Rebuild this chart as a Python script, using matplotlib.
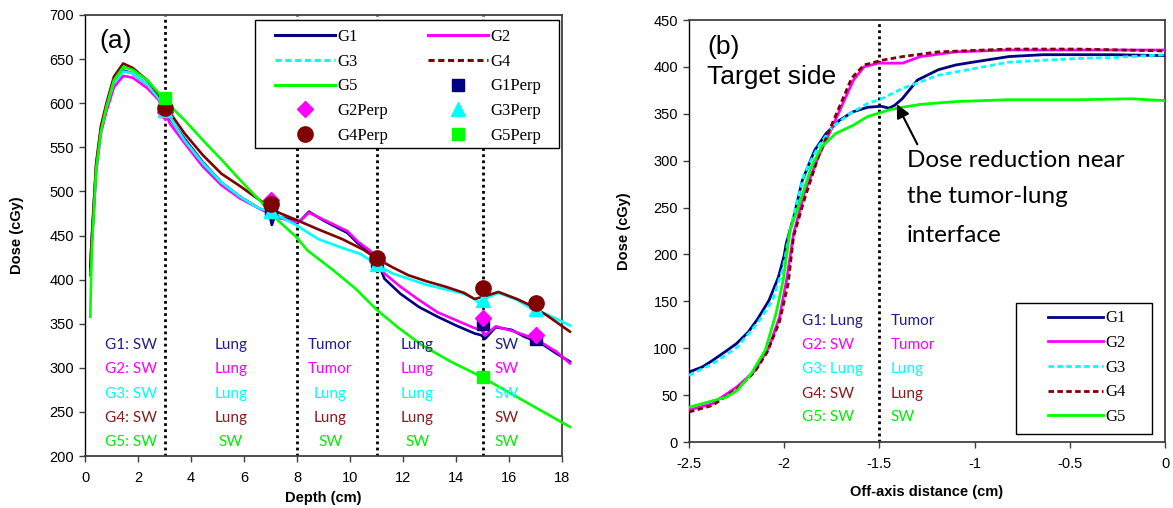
import matplotlib
matplotlib.use('Agg')
import matplotlib.pyplot as plt
from matplotlib.lines import Line2D
from matplotlib.patches import Rectangle
from matplotlib.ticker import FormatStrFormatter

plt.rcParams['font.family'] = 'Liberation Sans'
plt.rcParams['axes.unicode_minus'] = False

# ---------------- panel (a): depth dose ----------------
a_g1_depth = [0.2, 0.25, 0.42, 0.6, 0.81, 1.09, 1.44, 1.8, 2.35, 2.77, 3.0, 3.2, 3.75, 4.45, 5.15, 5.85,
              6.55, 6.95, 7.05, 7.15, 7.5, 7.95, 8.1, 8.45, 9.0, 9.9, 10.3, 10.75, 11.0, 11.3, 11.9, 12.6,
              13.3, 14.0, 14.7, 14.95, 15.1, 15.5, 16.1, 16.6, 17.2, 17.8, 18.3]
a_g1_dose = [410, 441, 528, 570, 596, 624, 637, 634, 621, 606, 596, 583, 560, 533, 510, 494,
             481, 476, 462, 471, 470, 466, 466, 477, 467, 453, 441, 432, 424, 401, 384, 369,
             358, 348, 339, 337, 333, 346, 343, 335, 328, 316, 307]

a_g2_depth = [0.2, 0.25, 0.42, 0.6, 0.81, 1.09, 1.44, 1.8, 2.35, 2.77, 3.0, 3.2, 3.75, 4.45, 5.15, 5.85,
              6.55, 7.3, 7.95, 8.1, 8.45, 9.0, 9.9, 10.3, 10.75, 11.0, 11.3, 11.9, 12.6, 13.3, 14.0,
              14.7, 14.95, 15.1, 15.5, 16.1, 16.6, 17.2, 17.8, 18.3]
a_g2_dose = [405, 436, 522, 566, 591, 618, 631, 629, 617, 604, 592, 577, 555, 528, 507, 492,
             481, 470, 465, 466, 476, 468, 455, 443, 433, 425, 407, 392, 377, 363, 354,
             345, 343, 337, 347, 342, 337, 329, 318, 305]

a_g3_depth = [0.2, 0.25, 0.42, 0.6, 0.81, 1.09, 1.44, 1.8, 2.35, 2.77, 3.0, 3.75, 4.45, 5.15, 5.85, 6.55,
              7.0, 7.95, 8.8, 9.7, 10.4, 11.0, 11.6, 12.2, 12.9, 13.6, 14.3, 14.7, 14.95, 15.2, 15.6,
              16.3, 16.8, 17.4, 18.3]
a_g3_dose = [420, 443, 528, 570, 596, 624, 636, 634, 621, 606, 594, 558, 532, 510, 494, 481,
             477, 462, 446, 436, 429, 417, 407, 401, 394, 389, 384, 378, 371, 380, 385,
             377, 368, 361, 348]

a_g4_depth = [0.2, 0.25, 0.42, 0.6, 0.81, 1.09, 1.44, 1.8, 2.35, 2.77, 3.0, 3.75, 4.45, 5.15, 5.85, 6.55,
              7.3, 7.95, 8.8, 9.7, 10.5, 11.0, 11.6, 12.2, 12.9, 13.6, 14.3, 14.7, 14.95, 15.6, 16.3,
              16.8, 17.4, 18.3]
a_g4_dose = [415, 445, 532, 574, 600, 630, 645, 640, 626, 610, 598, 566, 541, 520, 506, 491,
             476, 468, 457, 446, 434, 424, 414, 405, 398, 392, 385, 378, 380, 386, 378,
             371, 360, 341]

a_g5_depth = [0.2, 0.25, 0.42, 0.6, 0.81, 1.09, 1.44, 1.8, 2.35, 2.77, 3.0, 3.75, 4.45, 5.15, 5.85, 6.55,
              7.25, 7.95, 8.4, 9.35, 10.2, 11.0, 11.8, 12.7, 13.8, 14.95, 16.0, 17.0, 18.3]
a_g5_dose = [358, 430, 525, 568, 596, 626, 641, 638, 626, 612, 603, 581, 558, 536, 513, 491,
             468, 449, 433, 411, 390, 366, 346, 326, 307, 290, 272, 255, 233]

# perpendicular measurements
perp_depth = [3, 7, 11, 15, 17]
g1_perp = [591, 478, 421, 350, 333]
g2_perp = [590, 490, 421, 356, 337]
g3_perp = [592, 478, 418, 377, 367]
g4_perp = [595, 486, 424, 391, 374]
g5_perp_depth = [3, 15]
g5_perp = [606, 290]

boundaries_a = [3, 8, 11, 15]
region_text_a = [['G1: SW', 'Lung', 'Tumor', 'Lung', 'SW'],
                 ['G2: SW', 'Lung', 'Tumor', 'Lung', 'SW'],
                 ['G3: SW', 'Lung', 'Lung', 'Lung', 'SW'],
                 ['G4: SW', 'Lung', 'Lung', 'Lung', 'SW'],
                 ['G5: SW', 'SW', 'SW', 'SW', 'SW']]

# ---------------- panel (b): off-axis profiles ----------------
b_g1_x = [-2.5, -2.43, -2.376, -2.3, -2.25, -2.19, -2.14, -2.08, -2.03, -2.0, -1.99, -1.95, -1.905, -1.84,
          -1.78, -1.71, -1.64, -1.56, -1.49, -1.45, -1.42, -1.38, -1.3, -1.25, -1.19, -1.1, -1.01, -0.82,
          -0.64, -0.45, -0.27, 0]
b_g1_dose = [74.6, 80, 87, 97.7, 105, 117, 131, 151, 176, 199, 211, 240, 279, 311,
             329, 343, 352, 357, 358, 356, 359, 366, 386, 391, 397, 402, 405, 411,
             413, 413, 413, 412]

b_g2_x = [-2.5, -2.376, -2.247, -2.154, -2.08, -2.025, -1.988, -1.951, -1.895, -1.821, -1.747, -1.692,
          -1.636, -1.581, -1.507, -1.378, -1.285, -1.1, -0.823, -0.453, 0]
b_g2_dose = [34, 41, 59, 76, 101, 133, 172, 222, 265, 304, 336, 361,
             386, 400, 404, 404, 411, 416, 418, 418, 418]

b_g3_x = [-2.5, -2.376, -2.247, -2.136, -2.062, -2.006, -1.969, -1.895, -1.821, -1.747, -1.655, -1.562,
          -1.489, -1.378, -1.285, -1.193, -1.008, -0.823, -0.638, -0.453, -0.268, 0]
b_g3_dose = [71, 83.5, 101, 128, 151, 185, 226, 286, 315, 336, 350, 361,
             366, 377, 384, 391, 398, 405, 407, 409, 410, 413]

b_g4_x = [-2.5, -2.376, -2.247, -2.154, -2.089, -2.025, -1.979, -1.951, -1.895, -1.821, -1.747, -1.692,
          -1.646, -1.581, -1.489, -1.378, -1.193, -0.823, -0.453, 0]
b_g4_dose = [32, 39, 57, 75, 96, 128, 169, 219, 258, 304, 340, 366,
             388, 402, 407, 411, 416, 419, 419, 417]

b_g5_x = [-2.5, -2.376, -2.302, -2.247, -2.173, -2.099, -2.043, -2.006, -1.969, -1.914, -1.858, -1.803,
          -1.729, -1.636, -1.562, -1.452, -1.378, -1.285, -1.1, -0.823, -0.453, -0.176, 0]
b_g5_dose = [37, 44, 48, 55, 73, 98, 137, 172, 226, 258, 293, 315,
             329, 338, 347, 354, 357, 360, 363, 365, 365, 366, 364]

region_left_b = ['G1: Lung', 'G2: SW', 'G3: Lung', 'G4: SW', 'G5: SW']
region_right_b = ['Tumor', 'Tumor', 'Lung', 'Lung', 'SW']

names = ['G1', 'G2', 'G3', 'G4', 'G5']
colors = ['#000080', '#ff00ff', '#00ffff', '#800000', '#00ff00']
text_colors = ['#1f1f8c', '#ff00ff', '#00ffff', '#8b1c1c', '#00ee00']
dashes = ['-', '-', (0, (2, 1.2)), (0, (2, 1.2)), '-']

fig = plt.figure(figsize=(11.73, 5.08), dpi=100)
ax1 = fig.add_axes([85 / 1173, 52 / 508, 477 / 1173, 441 / 508])
ax2 = fig.add_axes([689 / 1173, 66 / 508, 476 / 1173, 422 / 508])


def style_axes(ax):
    for s in ['top', 'right', 'bottom']:
        ax.spines[s].set_color('#404040')
        ax.spines[s].set_linewidth(1.3)
    ax.spines['left'].set_color('black')
    ax.spines['left'].set_linewidth(1.0)
    ax.tick_params(direction='out', length=4, width=1, labelsize=10.5, color='#404040')
    ax.tick_params(axis='x', pad=7)
    ax.tick_params(axis='y', pad=4)


# ---- (a)
a_curves = [(a_g1_depth, a_g1_dose), (a_g2_depth, a_g2_dose), (a_g3_depth, a_g3_dose),
            (a_g4_depth, a_g4_dose), (a_g5_depth, a_g5_dose)]
for (d, v), c in zip(a_curves, colors):
    ax1.plot(d, v, color=c, lw=1.9, clip_on=False, zorder=3)

for b in boundaries_a:
    ax1.axvline(b, color='black', lw=2, linestyle=(0, (1, 1.2)), zorder=2)

p1, = ax1.plot(perp_depth, g1_perp, 's', color=colors[0], ms=9, zorder=4)
p2, = ax1.plot(perp_depth, g2_perp, 'D', color=colors[1], ms=8, zorder=4)
p3, = ax1.plot(perp_depth, g3_perp, '^', color=colors[2], ms=10, zorder=4)
p4, = ax1.plot(perp_depth, g4_perp, 'o', color=colors[3], ms=11, zorder=4)
p5, = ax1.plot(g5_perp_depth, g5_perp, 's', color=colors[4], ms=9, zorder=4)

ax1.set_xlim(0, 18)
ax1.set_ylim(200, 700)
ax1.set_xticks(range(0, 19, 2))
ax1.set_yticks(range(200, 701, 50))
style_axes(ax1)
ax1.set_xlabel('Depth (cm)', fontsize=10.5, fontweight='bold')
ax1.set_ylabel('Dose (cGy)', fontsize=10.5, fontweight='bold')
ax1.xaxis.set_label_coords(0.5, -0.079)
ax1.yaxis.set_label_coords(-0.128, 0.5)

ax1.text(0.53, 671, '(a)', fontsize=19, va='center', ha='left')

col_x_a = [1.72, 5.5, 9.25, 12.55, 15.9]
row_y_a = [325.7, 298.5, 270, 242.6, 216]
for row, y, c in zip(region_text_a, row_y_a, text_colors):
    for t, x in zip(row, col_x_a):
        ax1.text(x, y, t, color=c, fontsize=11, family='Lato', ha='center', va='center', zorder=5)

line_h = [Line2D([], [], color=c, lw=2.2, linestyle=ls) for c, ls in zip(colors, dashes)]
hand_a = [line_h[0], line_h[2], line_h[4], p2, p4, line_h[1], line_h[3], p1, p3, p5]
lab_a = ['G1', 'G3', 'G5', 'G2Perp', 'G4Perp', 'G2', 'G4', 'G1Perp', 'G3Perp', 'G5Perp']
ax1.add_patch(Rectangle((0.356, 0.698), 0.638, 0.291, transform=ax1.transAxes,
                        facecolor='white', edgecolor='black', lw=1, zorder=6))
leg = ax1.legend(hand_a, lab_a, ncol=2, loc='upper left', bbox_to_anchor=(0.398, 0.969),
                 frameon=False, borderpad=0, borderaxespad=0, handlelength=3.6, handletextpad=0.15,
                 labelspacing=0.53, columnspacing=2.4, numpoints=1,
                 prop={'family': 'Liberation Serif', 'size': 12})
leg.set_zorder(7)

# ---- (b)
b_curves = [(b_g1_x, b_g1_dose), (b_g2_x, b_g2_dose), (b_g3_x, b_g3_dose),
            (b_g4_x, b_g4_dose), (b_g5_x, b_g5_dose)]
for (x, v), c, ls, n in zip(b_curves, colors, dashes, names):
    ax2.plot(x, v, color=c, lw=2.0, linestyle=ls, label=n, zorder=3)

ax2.axvline(-1.5, color='black', lw=2, linestyle=(0, (1, 1.2)), zorder=2)

ax2.set_xlim(-2.5, 0)
ax2.set_ylim(0, 450)
ax2.set_xticks([-2.5, -2, -1.5, -1, -0.5, 0])
ax2.set_yticks(range(0, 451, 50))
ax2.xaxis.set_major_formatter(FormatStrFormatter('%g'))
style_axes(ax2)
ax2.set_xlabel('Off-axis distance (cm)', fontsize=10.5, fontweight='bold')
ax2.set_ylabel('Dose (cGy)', fontsize=10.5, fontweight='bold')
ax2.xaxis.set_label_coords(0.5, -0.102)
ax2.yaxis.set_label_coords(-0.122, 0.5)

ax2.text(-2.404, 421.5, '(b)', fontsize=19, va='center', ha='left')
ax2.text(-2.404, 389.5, 'Target side', fontsize=19, va='center', ha='left')
for t, y in zip(['Dose reduction near', 'the tumor-lung', 'interface'], [300.5, 261.4, 220.5]):
    ax2.text(-1.355, y, t, fontsize=17.5, family='Lato', va='center', ha='left')
ax2.annotate('', xy=(-1.415, 362.8), xytext=(-1.294, 314.8),
             arrowprops=dict(arrowstyle='-|>', color='black', lw=1.5, mutation_scale=20))

row_y_b = [128.6, 103, 77.4, 51.5, 26.6]
for l, r, y, c in zip(region_left_b, region_right_b, row_y_b, text_colors):
    ax2.text(-1.905, y, l, color=c, fontsize=11, family='Lato', ha='left', va='center')
    ax2.text(-1.44, y, r, color=c, fontsize=11, family='Lato', ha='left', va='center')

ax2.add_patch(Rectangle((0.687, 0.019), 0.286, 0.310, transform=ax2.transAxes,
                        facecolor='white', edgecolor='black', lw=1, zorder=6))
leg2 = ax2.legend(loc='upper left', bbox_to_anchor=(0.754, 0.312), frameon=False, borderpad=0,
                  borderaxespad=0, handlelength=3.3, handletextpad=0.15, labelspacing=0.52,
                  prop={'family': 'Liberation Serif', 'size': 12})
leg2.set_zorder(7)

fig.savefig('out.png', dpi=100)
